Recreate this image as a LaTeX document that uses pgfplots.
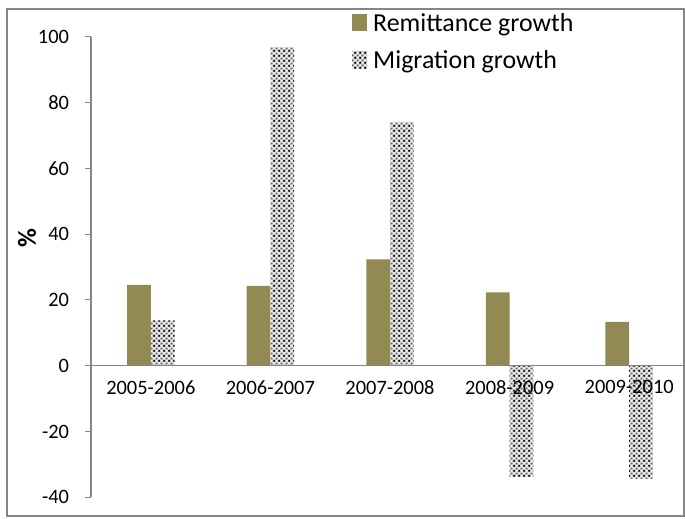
\documentclass[border=0pt]{standalone}
\usepackage{pgfplots}
\pgfplotsset{compat=1.18}
\usepackage{fontspec}
\setmainfont{Carlito}
\usetikzlibrary{patterns.meta}
\definecolor{olive}{RGB}{147,137,83}
\definecolor{axgray}{RGB}{134,134,134}
\tikzdeclarepattern{
  name=mydots,
  type=colored,
  bottom left={(0bp,0bp)},
  top right={(5.3bp,5.3bp)},
  tile size={(5.3bp,5.3bp)},
  code={
    \fill[black!25] (0bp,0bp) rectangle (5.3bp,5.3bp);
    \fill[white] (0.3bp,2.95bp) rectangle (2.35bp,5.0bp);
    \fill[white] (2.95bp,0.3bp) rectangle (5.0bp,2.35bp);
    \fill[black] (1.3bp,1.3bp) circle (1.3bp);
    \fill[black!60] (3.95bp,3.95bp) circle (1.0bp);
  }
}
\pgfplotstableread{
x rem mig
0 24.6 13.8
1 24.3 96.8
2 32.3 74.1
3 22.3 -33.8
4 13.3 -34.4
}\datatable
\begin{document}
\begin{tikzpicture}
\path[use as bounding box] (0bp,0bp) rectangle (685bp,519bp);
\begin{scope}
\clip (0bp,0bp) rectangle (685bp,519bp);
\begin{axis}[
  scale only axis,
  width=598bp, height=460.6bp,
  at={(91bp,21.7bp)}, anchor=south west,
  xmin=-0.5, xmax=4.5,
  ymin=-40, ymax=100,
  ytick={-40,-20,0,20,40,60,80,100},
  xtick={0,1,2,3,4},
  xticklabels={2005-2006,2006-2007,2007-2008,2008-2009,2009-2010},
  axis y line=left,
  axis x line=middle,
  axis on top,
  axis line style={axgray, line width=1.2bp, -},
  x tick style={draw=none},
  y tick style={axgray, line width=1bp},
  tick align=outside,
  major tick length=5.5bp,
  /pgf/number format/assume math mode=true,
  tick label style={font=\fontsize{20.5}{24}\selectfont, black},
  yticklabel style={xshift=-13bp},
  xticklabel style={yshift=-6bp},
  ylabel={\textbf{\%}},
  ylabel style={at={(axis description cs:-0.107,0.562)}, anchor=center, font=\fontsize{26}{30}\selectfont},
  ybar=0pt,
  bar width=23.7bp,
  legend style={at={(axis description cs:0.4365,1.056)}, anchor=north west, draw=none, fill=none,
    font=\fontsize{26}{30}\selectfont, row sep=14bp, inner sep=0pt,
    /tikz/every odd column/.append style={column sep=4bp}},
  legend cell align=left,
  clip=false,
]
\addplot[draw=none, fill=olive, legend image code/.code={\fill[olive] (0bp,-8.5bp) rectangle (15bp,8.5bp);}] table[x=x,y=rem]{\datatable};
\addlegendentry{Remittance growth}
\addplot[draw=none, pattern=mydots, legend image code/.code={\fill[pattern=mydots] (0bp,-8.5bp) rectangle (15bp,8.5bp);}] table[x=x,y=mig]{\datatable};
\addlegendentry{Migration growth}
\end{axis}
\end{scope}
\draw[axgray, line width=1.5bp] (7bp,3bp) rectangle (684bp,510bp);
\end{tikzpicture}
\end{document}
